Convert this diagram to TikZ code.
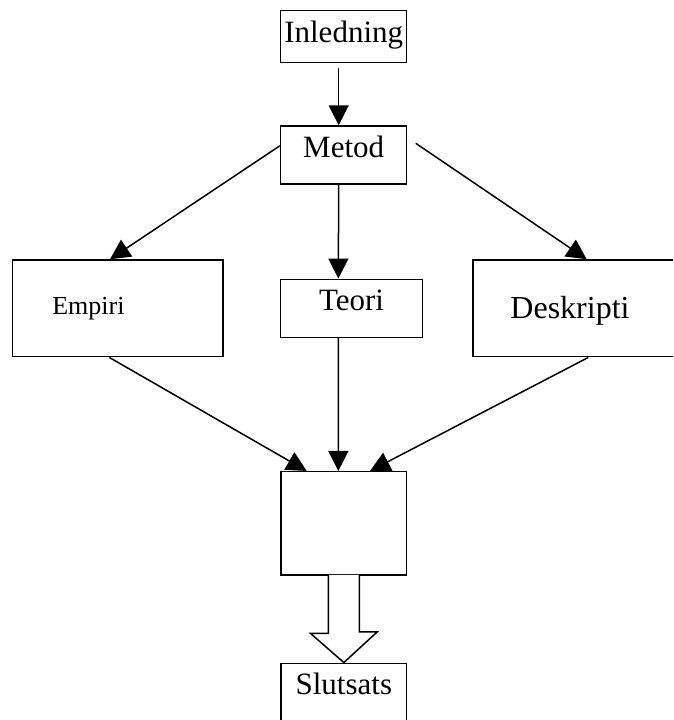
\documentclass[tikz,border=0pt]{standalone}
\usepackage{fontspec}
\setmainfont{Liberation Serif}
\usetikzlibrary{arrows.meta,positioning}

\begin{document}
\begin{tikzpicture}[
  x=1pt, y=-1pt,
  box/.style={rectangle, draw, line width=1.5pt, inner sep=0pt},
  tekst/.style={font=\fontsize{31}{36}\selectfont, inner sep=0pt},
  pil/.style={line width=1.5pt, -{Triangle[length=20pt,width=20pt]}},
  blockpil/.style={line width=1.5pt, fill=white}
]
  \clip (0,0) rectangle (673,720);
  \node[box, minimum width=126pt, minimum height=52pt,
        label={[tekst, yshift=2pt]center:Inledning}] (inledning) at (343.7, 36.7) {};
  \node[box, minimum width=126pt, minimum height=58pt,
        label={[tekst, yshift=8pt]center:Metod}] (metod) at (343.7, 155) {};
  \node[box, minimum width=210.3pt, minimum height=96.7pt,
        label={[tekst, font=\fontsize{26}{30}\selectfont, xshift=-29.4pt]center:Empiri}] (empiri) at (117.85, 308.35) {};
  \node[box, minimum width=141.6pt, minimum height=58pt,
        label={[tekst, yshift=8pt]center:Teori}] (teori) at (351.5, 308.3) {};
  \node[box, minimum width=207pt, minimum height=96.7pt,
        label={[tekst, font=\fontsize{32}{36}\selectfont, xshift=-6.5pt, yshift=-2pt]center:Deskripti}] (deskripti) at (576.5, 308.35) {};
  \node[box, minimum width=125.7pt, minimum height=103.3pt] (mitt) at (343.85, 523.35) {};
  \node[box, minimum width=125.7pt, minimum height=64pt,
        label={[tekst, yshift=11pt]center:Slutsats}] (slutsats) at (343.85, 695.3) {};
  % pilar
  \draw[pil] ([xshift=-5pt, yshift=-5pt]inledning.south) -- ([xshift=-5pt]metod.north);
  \draw[pil] ([yshift=9.3pt]metod.west) -- ([xshift=-7.85pt]empiri.north);
  \draw[pil] ([xshift=-5pt]metod.south) -- ([xshift=-13.2pt]teori.north);
  \draw[pil] ([xshift=8.3pt, yshift=11.7pt]metod.east) -- ([xshift=10.2pt]deskripti.north);
  \draw[pil] ([xshift=-8.5pt]empiri.south) -- ([xshift=-37.2pt]mitt.north);
  \draw[pil] ([xshift=-13.2pt]teori.south) -- ([xshift=-5.5pt]mitt.north);
  \draw[pil] ([xshift=11.8pt]deskripti.south) -- ([xshift=26.2pt]mitt.north);
  % blockpil till slutsats
  \draw[blockpil] ([xshift=-15.5pt, yshift=1pt]mitt.south) -- ++(0,58.7) -- ++(-17.8,0)
    -- (slutsats.north) -- ++(33.3,-30.6) -- ++(-17.8,0) -- ([xshift=15.5pt, yshift=1pt]mitt.south);
\end{tikzpicture}
\end{document}
